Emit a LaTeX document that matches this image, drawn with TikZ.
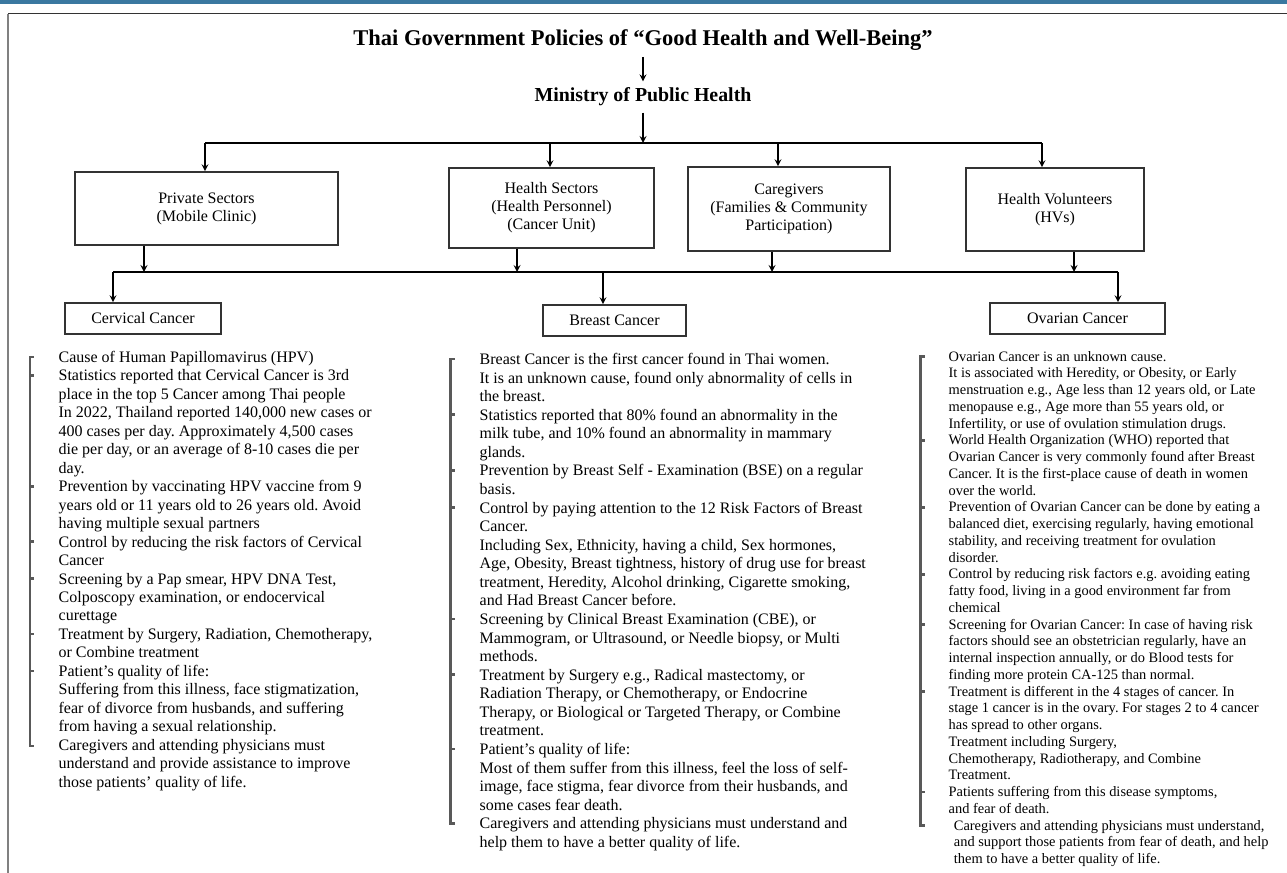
\documentclass[tikz,border=0pt]{standalone}
\usepackage{fontspec}
\setmainfont{Liberation Serif}
\usepackage{tikz}
\usetikzlibrary{positioning, arrows}
\usepackage{xcolor}
\definecolor{topblue}{RGB}{58,120,160}
\frenchspacing

\begin{document}
\begin{tikzpicture}[>=stealth, line width=0.75pt,
  sector/.style={draw=black!80, line width=0.9pt, align=center, inner sep=2pt,
    font=\fontsize{9.1}{10.3}\selectfont},
  cancer/.style={draw=black!80, line width=0.9pt, minimum height=0.62cm,
    font=\fontsize{9.1}{10.3}\selectfont},
  facts/.style={anchor=north west, align=left, inner sep=0pt},
  brk/.style={draw=black!65, line width=1.3pt}
]
  \useasboundingbox (0,0) rectangle (25.74,-17.46);

  % Page frame
  \fill[topblue] (0,0) rectangle (25.74,-0.07);
  \draw[black!80, line width=0.7pt] (0.16,-0.27) -- (25.74,-0.27);
  \draw[black!50, line width=1.1pt] (0.16,-0.27) -- (0.16,-17.46);

  % Headings
  \node[font=\bfseries\fontsize{12.8}{15}\selectfont] (title) at (12.86,-0.80)
    {Thai Government Policies of “Good Health and Well-Being”};
  \node[font=\bfseries\fontsize{11.3}{13}\selectfont] (moph) at (12.86,-1.94)
    {Ministry of Public Health};
  \draw[->] (title) -- (moph);

  % Sectors
  \node[sector, minimum width=5.26cm, minimum height=1.46cm] (priv) at (4.13,-4.17)
    {Private Sectors\\(Mobile Clinic)};
  \node[sector, minimum width=4.10cm, minimum height=1.60cm] (hs) at (11.03,-4.16)
    {Health Sectors\\(Health Personnel)\\(Cancer Unit)};
  \node[sector, minimum width=4.04cm, minimum height=1.68cm] (cg) at (15.78,-4.18)
    {Caregivers\\(Families \& Community\\Participation)};
  \node[sector, minimum width=3.56cm, minimum height=1.66cm] (hv) at (21.10,-4.19)
    {Health Volunteers\\(HVs)};

  % Upper bar
  \coordinate (upriv) at (4.10,-2.86);
  \coordinate (uhs) at (11.00,-2.86);
  \coordinate (ucg) at (15.56,-2.86);
  \coordinate (uhv) at (20.84,-2.86);
  \draw[->] (moph) -- (moph |- upriv);
  \draw (upriv) -- (uhv);
  \foreach \u/\s in {upriv/priv, uhs/hs, ucg/cg, uhv/hv}
    \draw[->] (\u) -- (\u |- \s.north);

  % Lower bar
  \coordinate (lpriv) at (2.88,-5.44);
  \coordinate (lhs) at (10.34,-5.44);
  \coordinate (lcg) at (15.44,-5.44);
  \coordinate (lhv) at (21.48,-5.44);
  \foreach \l/\s in {lpriv/priv, lhs/hs, lcg/cg, lhv/hv}
    \draw[->] (\l |- \s.south) -- (\l);

  % Cancers
  \node[cancer, minimum width=3.12cm] (cerv) at (2.86,-6.37) {Cervical Cancer};
  \node[cancer, minimum width=2.86cm] (breast) at (12.29,-6.41) {Breast Cancer};
  \node[cancer, minimum width=3.50cm] (ovar) at (21.55,-6.37) {Ovarian Cancer};

  \coordinate (ccerv) at (2.26,-5.44);
  \coordinate (cbreast) at (12.06,-5.44);
  \coordinate (covar) at (22.36,-5.44);
  \draw (ccerv) -- (covar);
  \foreach \c/\s in {ccerv/cerv, cbreast/breast, covar/ovar}
    \draw[->] (\c) -- (\c |- \s.north);

  % Cervical cancer facts
  \node[facts, font=\fontsize{9.1}{10.51}\selectfont] (cervtxt) at (1.16,-7.01) {%
    Cause of Human Papillomavirus (HPV)\\
    Statistics reported that Cervical Cancer is 3rd\\
    place in the top 5 Cancer among Thai people\\
    In 2022, Thailand reported 140,000 new cases or\\
    400 cases per day. Approximately 4,500 cases\\
    die per day, or an average of 8-10 cases die per\\
    day.\\
    Prevention by vaccinating HPV vaccine from 9\\
    years old or 11 years old to 26 years old. Avoid\\
    having multiple sexual partners\\
    Control by reducing the risk factors of Cervical\\
    Cancer\\
    Screening by a Pap smear, HPV DNA Test,\\
    Colposcopy examination, or endocervical\\
    curettage\\
    Treatment by Surgery, Radiation, Chemotherapy,\\
    or Combine treatment\\
    Patient's quality of life:\\
    Suffering from this illness, face stigmatization,\\
    fear of divorce from husbands, and suffering\\
    from having a sexual relationship.\\
    Caregivers and attending physicians must\\
    understand and provide assistance to improve\\
    those patients' quality of life.};
  \draw[brk] (0.68,-7.14) -| (0.60,-14.92) -- ++(0.08,0);
  \foreach \y in {7.51,9.73,10.83,11.57,12.68,13.42}
    \draw[brk] (0.60,-\y) -- ++(0.08,0);

  % Breast cancer facts
  \node[facts, font=\fontsize{9.1}{10.57}\selectfont] (breasttxt) at (9.58,-7.05) {%
    Breast Cancer is the first cancer found in Thai women.\\
    It is an unknown cause, found only abnormality of cells in\\
    the breast.\\
    Statistics reported that 80\% found an abnormality in the\\
    milk tube, and 10\% found an abnormality in mammary\\
    glands.\\
    Prevention by Breast Self - Examination (BSE) on a regular\\
    basis.\\
    Control by paying attention to the 12 Risk Factors of Breast\\
    Cancer.\\
    Including Sex, Ethnicity, having a child, Sex hormones,\\
    Age, Obesity, Breast tightness, history of drug use for breast\\
    treatment, Heredity, Alcohol drinking, Cigarette smoking,\\
    and Had Breast Cancer before.\\
    Screening by Clinical Breast Examination (CBE), or\\
    Mammogram, or Ultrasound, or Needle biopsy, or Multi\\
    methods.\\
    Treatment by Surgery e.g., Radical mastectomy, or\\
    Radiation Therapy, or Chemotherapy, or Endocrine\\
    Therapy, or Biological or Targeted Therapy, or Combine\\
    treatment.\\
    Patient's quality of life:\\
    Most of them suffer from this illness, feel the loss of self-\\
    image, face stigma, fear divorce from their husbands, and\\
    some cases fear death.\\
    Caregivers and attending physicians must understand and\\
    help them to have a better quality of life.};
  \draw[brk] (9.09,-7.18) -| (9.01,-16.47) -- ++(0.08,0);
  \foreach \y in {8.29,9.41,10.15,12.38,13.49,14.98}
    \draw[brk] (9.01,-\y) -- ++(0.08,0);

  % Ovarian cancer facts
  \node[facts, font=\fontsize{8.2}{9.53}\selectfont] (ovartxt) at (18.96,-7.01) {%
    Ovarian Cancer is an unknown cause.\\
    It is associated with Heredity, or Obesity, or Early\\
    menstruation e.g., Age less than 12 years old, or Late\\
    menopause e.g., Age more than 55 years old, or\\
    Infertility, or use of ovulation stimulation drugs.\\
    World Health Organization (WHO) reported that\\
    Ovarian Cancer is very commonly found after Breast\\
    Cancer. It is the first-place cause of death in women\\
    over the world.\\
    Prevention of Ovarian Cancer can be done by eating a\\
    balanced diet, exercising regularly, having emotional\\
    stability, and receiving treatment for ovulation\\
    disorder.\\
    Control by reducing risk factors e.g. avoiding eating\\
    fatty food, living in a good environment far from\\
    chemical\\
    Screening for Ovarian Cancer: In case of having risk\\
    factors should see an obstetrician regularly, have an\\
    internal inspection annually, or do Blood tests for\\
    finding more protein CA-125 than normal.\\
    Treatment is different in the 4 stages of cancer. In\\
    stage 1 cancer is in the ovary. For stages 2 to 4 cancer\\
    has spread to other organs.\\
    Treatment including Surgery,\\
    Chemotherapy, Radiotherapy, and Combine\\
    Treatment.\\
    Patients suffering from this disease symptoms,\\
    and fear of death.\\
    \hspace*{3pt}Caregivers and attending physicians must understand,\\
    \hspace*{3pt}and support those patients from fear of death, and help\\
    \hspace*{3pt}them to have a better quality of life.};
  \draw[brk] (18.49,-7.13) -| (18.41,-16.51) -- ++(0.08,0);
  \foreach \y in {8.81,10.15,11.49,12.49,13.83,15.84}
    \draw[brk] (18.41,-\y) -- ++(0.08,0);
\end{tikzpicture}
\end{document}
